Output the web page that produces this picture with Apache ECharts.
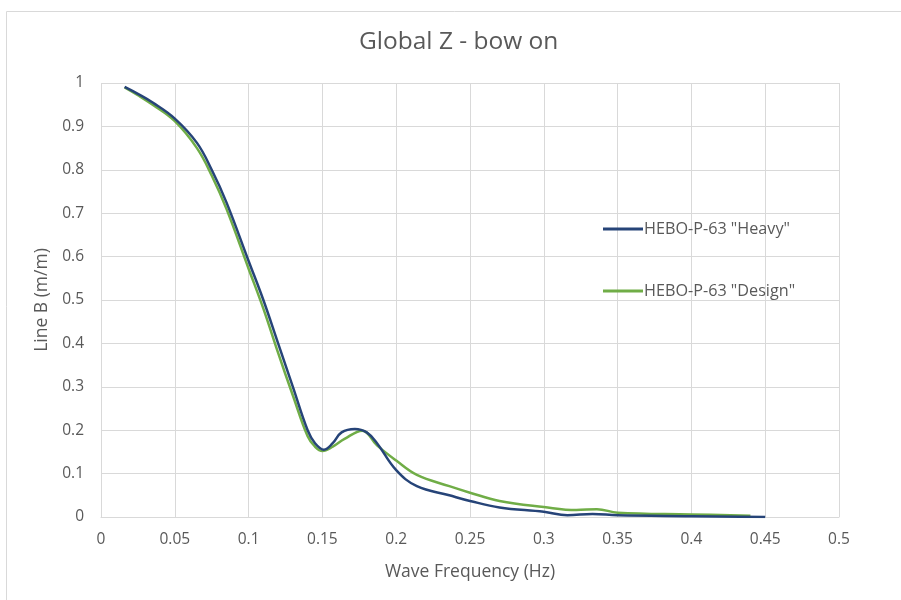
<!DOCTYPE html>
<html><head><meta charset="utf-8">
<script src="https://cdn.jsdelivr.net/npm/echarts@6/dist/echarts.min.js"></script>
<style>html,body{margin:0;padding:0;background:#fff}#c{width:901px;height:600px}</style>
</head><body><div id="c"></div>
<script>
const title = 'Global Z - bow on';
const xTitle = 'Wave Frequency (Hz)';
const yTitle = 'Line B (m/m)';
const seriesNames = ['HEBO-P-63 "Heavy"', 'HEBO-P-63 "Design"'];
const heavyX = [0.016, 0.025, 0.035, 0.05, 0.065, 0.075, 0.085, 0.1, 0.11, 0.12, 0.13, 0.14, 0.145, 0.151, 0.157, 0.163, 0.172, 0.18, 0.187, 0.2, 0.214, 0.236, 0.25, 0.27, 0.3, 0.316, 0.333, 0.35, 0.4, 0.45];
const heavyY = [0.991, 0.975, 0.955, 0.918, 0.862, 0.80, 0.725, 0.59, 0.50, 0.40, 0.30, 0.20, 0.17, 0.155, 0.17, 0.195, 0.203, 0.195, 0.17, 0.108, 0.071, 0.05, 0.037, 0.022, 0.012, 0.004, 0.007, 0.004, 0.002, 0.0];
const designX = [0.016, 0.025, 0.035, 0.05, 0.065, 0.075, 0.085, 0.1, 0.11, 0.12, 0.13, 0.14, 0.145, 0.15, 0.157, 0.165, 0.177, 0.187, 0.2, 0.214, 0.236, 0.25, 0.27, 0.3, 0.322, 0.336, 0.35, 0.4, 0.44];
const designY = [0.99, 0.972, 0.95, 0.912, 0.85, 0.787, 0.71, 0.572, 0.48, 0.378, 0.28, 0.186, 0.162, 0.152, 0.162, 0.18, 0.199, 0.165, 0.13, 0.097, 0.071, 0.056, 0.037, 0.023, 0.016, 0.018, 0.01, 0.006, 0.003];
const colors = ['#264478', '#70AD47'];

const pairs = (xs, ys) => xs.map((x, i) => [x, ys[i]]);
const font = '"Open Sans", sans-serif';
const chart = echarts.init(document.getElementById('c'));
chart.setOption({
  animation: false,
  graphic: [{type: 'rect', left: 4, top: 9, shape: {x: 0, y: 0, width: 930, height: 620}, style: {fill: 'none', stroke: '#d9d9d9', lineWidth: 1}}],
  title: {text: title, left: 354, top: 25, textStyle: {fontFamily: font, fontSize: 24.5, fontWeight: 'normal', color: '#595959'}},
  legend: {
    orient: 'vertical', left: 598, top: 216, itemGap: 46, itemWidth: 40, itemHeight: 3, icon: 'rect',
    textStyle: {fontFamily: font, fontSize: 16.2, color: '#595959', padding: [0, 0, 0, -4]},
    data: seriesNames
  },
  grid: {left: 101, right: 62, top: 83, bottom: 83, containLabel: false},
  xAxis: {
    type: 'value', min: 0, max: 0.5, interval: 0.05,
    name: xTitle, nameLocation: 'middle', nameGap: 46,
    nameTextStyle: {fontFamily: font, fontSize: 17.5, color: '#595959'},
    axisLine: {show: true, lineStyle: {color: '#d9d9d9'}},
    axisTick: {show: false},
    axisLabel: {fontFamily: font, fontSize: 15.5, color: '#595959', margin: 15, formatter: v => String(+v.toFixed(2))},
    splitLine: {show: true, lineStyle: {color: '#d9d9d9'}}
  },
  yAxis: {
    type: 'value', min: 0, max: 1, interval: 0.1,
    name: yTitle, nameLocation: 'middle', nameGap: 48, nameRotate: 90,
    nameTextStyle: {fontFamily: font, fontSize: 17.5, color: '#595959'},
    axisLine: {show: false},
    axisTick: {show: false},
    axisLabel: {fontFamily: font, fontSize: 15.5, color: '#595959', margin: 17, formatter: v => String(+v.toFixed(1))},
    splitLine: {show: true, lineStyle: {color: '#d9d9d9'}}
  },
  series: [
    {name: seriesNames[0], type: 'line', smooth: 0.4, showSymbol: false, data: pairs(heavyX, heavyY), lineStyle: {width: 2.5, color: colors[0]}, itemStyle: {color: colors[0]}, z: 3},
    {name: seriesNames[1], type: 'line', smooth: 0.4, showSymbol: false, data: pairs(designX, designY), lineStyle: {width: 2.5, color: colors[1]}, itemStyle: {color: colors[1]}, z: 2}
  ]
});
</script></body></html>
